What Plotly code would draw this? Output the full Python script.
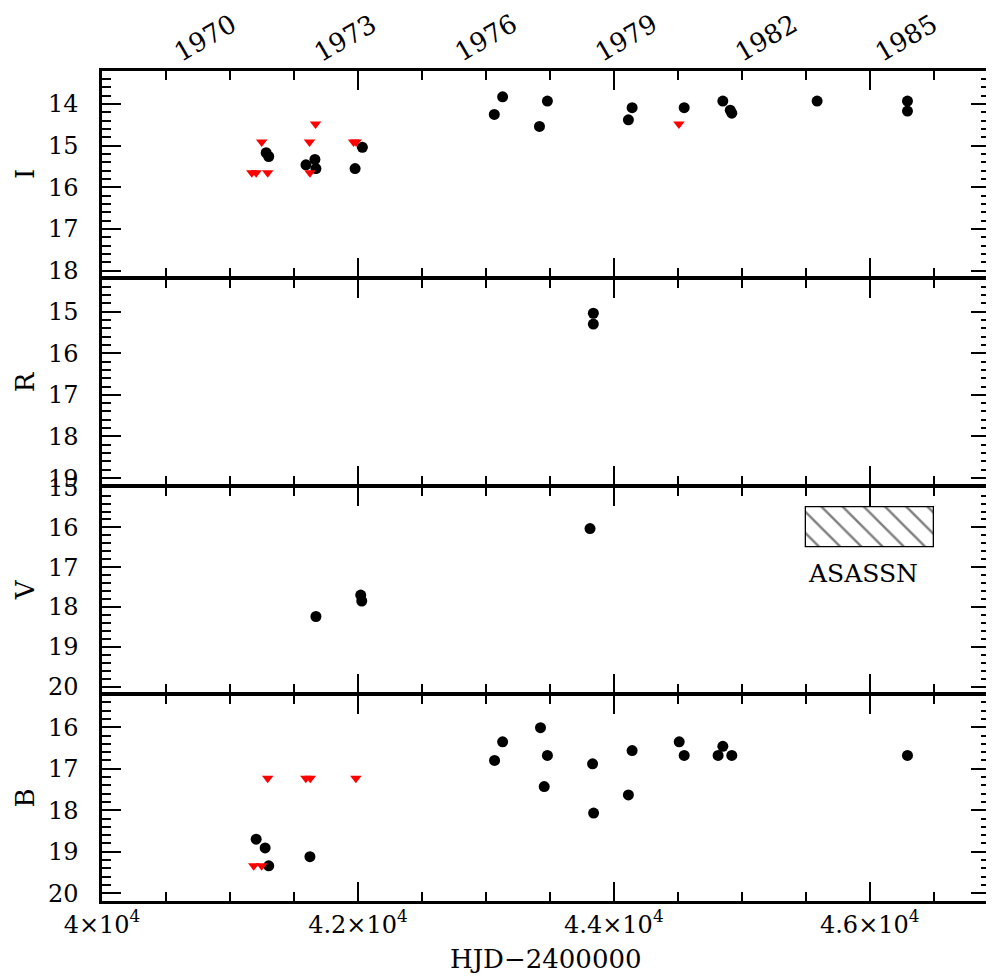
import plotly.graph_objects as go

# ---------------- data (HJD-2400000, magnitude) ----------------
I_det_jd = [41283, 41303, 41594, 41664, 41672, 41978, 42035, 43066, 43131, 43419,
            43481, 44114, 44143, 44550, 44852, 44910, 44922, 45589, 46295, 46295]
I_det_mag = [15.17, 15.26, 15.46, 15.33, 15.55, 15.55, 15.04, 14.25, 13.83, 14.54,
             13.93, 14.38, 14.09, 14.09, 13.93, 14.15, 14.22, 13.93, 13.93, 14.17]
I_lim_jd = [41171, 41205, 41248, 41295, 41622, 41625, 41669, 41966, 41986, 44509]
I_lim_mag = [15.65, 15.65, 14.91, 15.65, 14.91, 15.65, 14.48, 14.91, 14.91, 14.48]

R_det_jd = [43840, 43840]
R_det_mag = [15.04, 15.30]

V_det_jd = [43814, 41672, 42022, 42030]
V_det_mag = [16.03, 18.24, 17.70, 17.85]

B_det_jd = [41205, 41275, 41303, 41625, 43068, 43131, 43427, 43481, 43456, 43834,
            43842, 44114, 44143, 44511, 44550, 44815, 44852, 44922, 46295]
B_det_mag = [18.70, 18.91, 19.34, 19.12, 16.80, 16.35, 16.01, 16.68, 17.43, 16.88,
             18.07, 17.63, 16.56, 16.35, 16.68, 16.68, 16.46, 16.68, 16.68]
B_lim_jd = [41295, 41593, 41628, 41984, 41186, 41248]
B_lim_mag = [17.23, 17.23, 17.23, 17.23, 19.34, 19.34]

# ASASSN coverage box (V panel)
asassn_jd = [45500, 46500]
asassn_mag = [15.5, 16.5]

# top axis: calendar years at their HJD-2400000 values (Jan 1)
year_labels = ["1970", "1973", "1976", "1979", "1982", "1985"]
year_jd = [40587.5, 41683.5, 42778.5, 43874.5, 44970.5, 46065.5]

# bottom axis tick labels
x_tickvals = [40000, 42000, 44000, 46000]
x_ticktext = ["4×10<sup>4</sup>", "4.2×10<sup>4</sup>", "4.4×10<sup>4</sup>", "4.6×10<sup>4</sup>"]

band_names = ["I", "R", "V", "B"]
y_ranges = [[18.14, 13.21], [19.16, 14.22], [20.16, 14.99], [20.19, 15.23]]

# ---------------- figure ----------------
FONT = "DejaVu Serif"
fig = go.Figure()

det_style = dict(mode="markers", marker=dict(color="black", size=11, symbol="circle"),
                 showlegend=False, hoverinfo="x+y")
lim_style = dict(mode="markers", marker=dict(color="#ff0000", size=10, symbol="triangle-down"),
                 showlegend=False, hoverinfo="x+y")

fig.add_trace(go.Scatter(x=I_det_jd, y=I_det_mag, xaxis="x", yaxis="y", **det_style))
fig.add_trace(go.Scatter(x=I_lim_jd, y=I_lim_mag, xaxis="x", yaxis="y", **lim_style))
fig.add_trace(go.Scatter(x=R_det_jd, y=R_det_mag, xaxis="x2", yaxis="y2", **det_style))
fig.add_trace(go.Scatter(x=V_det_jd, y=V_det_mag, xaxis="x3", yaxis="y3", **det_style))
fig.add_trace(go.Scatter(x=B_det_jd, y=B_det_mag, xaxis="x4", yaxis="y4", **det_style))
fig.add_trace(go.Scatter(x=B_lim_jd, y=B_lim_mag, xaxis="x4", yaxis="y4", **lim_style))

# hatched ASASSN box
fig.add_trace(go.Bar(
    x=[(asassn_jd[0] + asassn_jd[1]) / 2], width=[asassn_jd[1] - asassn_jd[0]],
    base=[asassn_mag[0]], y=[asassn_mag[1] - asassn_mag[0]],
    xaxis="x3", yaxis="y3", showlegend=False, hoverinfo="skip",
    marker=dict(color="white", line=dict(color="black", width=1.3),
                pattern=dict(shape="\\", fgcolor="black", bgcolor="white",
                             size=15, solidity=0.16)),
))
fig.add_annotation(x=asassn_jd[0], y=17.15, xref="x3", yref="y3", text="ASASSN",
                   showarrow=False, xanchor="left", yanchor="middle",
                   font=dict(family=FONT, size=25, color="black"))

# page geometry (the page body adds an 8px offset)
PLOT_H = 830.0
GAP = 2.5
PANEL_H = (PLOT_H - 3 * GAP) / 4
domains = []
for k in range(4):
    top = PLOT_H - k * (PANEL_H + GAP)
    domains.append([max(0.0, (top - PANEL_H) / PLOT_H), min(1.0, top / PLOT_H)])

X_RANGE = [40000, 46940]

axis_common = dict(showline=True, linecolor="black", linewidth=2.5, mirror="ticks",
                   ticks="inside", tickcolor="black", tickwidth=1.5, ticklen=19,
                   showgrid=False, zeroline=False,
                   tickfont=dict(family=FONT, size=24, color="black"))

layout = dict(width=986, height=968, margin=dict(l=94, r=1, t=63, b=75),
              paper_bgcolor="white", plot_bgcolor="white", showlegend=False,
              font=dict(family=FONT, color="black"), bargap=0)

for i in range(4):
    sfx = "" if i == 0 else str(i + 1)
    xa = dict(axis_common, domain=[0, 1], anchor="y" + sfx, range=X_RANGE,
              tick0=40000, dtick=2000,
              minor=dict(tick0=40000, dtick=500, ticks="inside", ticklen=9,
                         tickwidth=1.5, tickcolor="black"))
    if i == 3:
        xa.update(tickmode="array", tickvals=x_tickvals, ticktext=x_ticktext,
                  showticklabels=True, ticklabelstandoff=0)
    else:
        xa.update(showticklabels=False)
    ya = dict(axis_common, domain=domains[i], anchor="x" + sfx, range=y_ranges[i],
              tick0=0, dtick=1, ticklabelstandoff=16,
              minor=dict(tick0=0, dtick=0.2, ticks="inside", ticklen=9,
                         tickwidth=1.5, tickcolor="black"))
    if i != 0:
        xa["matches"] = "x"
    layout["xaxis" + sfx] = xa
    layout["yaxis" + sfx] = ya

fig.update_layout(**layout)

# calendar years above the top panel
for lab, jd in zip(year_labels, year_jd):
    fig.add_annotation(x=jd, y=1.0398, xref="x", yref="paper", text=lab,
                       showarrow=False, textangle=-30, xanchor="center", yanchor="middle",
                       xshift=28, font=dict(family=FONT, size=26, color="black"))

# band titles (left) and x title (bottom)
for i, name in enumerate(band_names):
    d = domains[i]
    fig.add_annotation(x=-0.0864, y=(d[0] + d[1]) / 2, xref="paper", yref="paper",
                       text=name, showarrow=False, textangle=-90, borderpad=0,
                       xanchor="center", yanchor="middle",
                       font=dict(family=FONT, size=26, color="black"))
fig.add_annotation(x=0.5, y=-0.0699, xref="paper", yref="paper", text="HJD−2400000",
                   showarrow=False, xanchor="center", yanchor="middle", borderpad=0,
                   font=dict(family=FONT, size=26, color="black"))

fig.write_html("out.html")
